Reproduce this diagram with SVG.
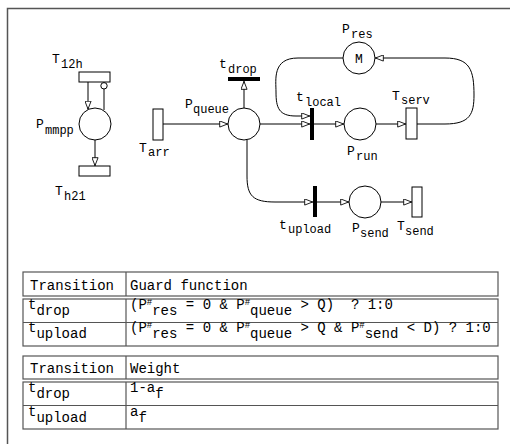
<svg xmlns="http://www.w3.org/2000/svg" width="510" height="444" viewBox="0 0 510 444">
<defs>
<style>
.pl{fill:#fff;stroke:#000;stroke-width:1}
.tr{fill:#fff;stroke:#000;stroke-width:1}
.bar{fill:#000;stroke:none}
.arc{fill:none;stroke:#000;stroke-width:1}
.lb{font-family:"Liberation Mono","DejaVu Sans Mono",monospace;font-size:13px;fill:#000}
.sb{font-size:12px}
.tb{fill:none;stroke:#555;stroke-width:1.2}
.tt{font-family:"Liberation Mono","DejaVu Sans Mono",monospace;font-size:14px;fill:#000}
.sp{font-size:9px}
</style>
<marker id="ah" viewBox="0 0 10 8" markerWidth="9" markerHeight="7" refX="10" refY="4" orient="auto" markerUnits="userSpaceOnUse">
<path d="M0.5,0.5 L9.5,4 L0.5,7.5 Z" fill="#fff" stroke="#000" stroke-width="1"/>
</marker>
</defs>
<rect x="7.5" y="8.5" width="600" height="600" fill="none" stroke="#555" stroke-width="1.5"/>
<g id="connectors">
<path class="arc" d="M88 82 V109.5" marker-end="url(#ah)"/>
<path class="arc" d="M104 110 V89"/>
<circle cx="104" cy="85.8" r="3.2" fill="#fff" stroke="#000" stroke-width="1"/>
<path class="arc" d="M95 140 V166" marker-end="url(#ah)"/>
<path class="arc" d="M163 124 H228" marker-end="url(#ah)"/>
<path class="arc" d="M244 108 V81" marker-end="url(#ah)"/>
<path class="arc" d="M260 124 H310" marker-end="url(#ah)"/>
<path class="arc" d="M343 58 H298 C272 58 276 80 276 92 C276 108 279 116 296 116 H310" marker-end="url(#ah)"/>
<path class="arc" d="M314 124 H344" marker-end="url(#ah)"/>
<path class="arc" d="M376 124 H406" marker-end="url(#ah)"/>
<path class="arc" d="M417 124 H445 C470 124 474 114 474 95 C474 70 470 58 445 58 H375" marker-end="url(#ah)"/>
<path class="arc" d="M247 140 V176 C247 196 253 202 275 202 H313" marker-end="url(#ah)"/>
<path class="arc" d="M317 202 H349" marker-end="url(#ah)"/>
<path class="arc" d="M381 202 H412" marker-end="url(#ah)"/>
</g>
<g id="T12h"><rect class="tr" x="79" y="72" width="31" height="10"/><text class="lb" x="52" y="63">T<tspan class="sb" x="61" y="68">12h</tspan></text></g>
<g id="Pmmpp"><circle class="pl" cx="95" cy="124" r="16"/><text class="lb" x="36" y="128">P<tspan class="sb" x="45" y="134">mmpp</tspan></text></g>
<g id="Th21"><rect class="tr" x="79" y="166" width="31" height="10"/><text class="lb" x="55" y="195">T<tspan class="sb" x="64" y="200">h21</tspan></text></g>
<g id="Tarr"><rect class="tr" x="153" y="109" width="10" height="31"/><text class="lb" x="139" y="152">T<tspan class="sb" x="148" y="156">arr</tspan></text></g>
<g id="Pqueue"><circle class="pl" cx="244" cy="124" r="16"/><text class="lb" x="185" y="108">P<tspan class="sb" x="193" y="113">queue</tspan></text></g>
<g id="tdrop"><rect class="bar" x="228" y="77" width="32" height="4"/><text class="lb" x="219" y="68">t<tspan class="sb" x="228" y="73">drop</tspan></text></g>
<g id="tlocal"><rect class="bar" x="310" y="108" width="4" height="32"/><text class="lb" x="296" y="101">t<tspan class="sb" x="305" y="106">local</tspan></text></g>
<g id="Pres"><circle class="pl" cx="359" cy="58" r="16"/><text class="lb" x="359" y="62.5" text-anchor="middle" font-size="12">M</text><text class="lb" x="342" y="33">P<tspan class="sb" x="351" y="38">res</tspan></text></g>
<g id="Prun"><circle class="pl" cx="360" cy="124" r="16"/><text class="lb" x="347" y="155">P<tspan class="sb" x="356" y="160">run</tspan></text></g>
<g id="Tserv"><rect class="tr" x="406" y="108" width="11" height="31"/><text class="lb" x="392" y="100">T<tspan class="sb" x="401" y="104">serv</tspan></text></g>
<g id="tupload"><rect class="bar" x="313" y="186" width="4" height="31"/><text class="lb" x="279" y="229">t<tspan class="sb" x="288" y="233">upload</tspan></text></g>
<g id="Psend"><circle class="pl" cx="365" cy="202" r="16"/><text class="lb" x="352" y="232">P<tspan class="sb" x="360" y="237">send</tspan></text></g>
<g id="Tsend"><rect class="tr" x="412" y="187" width="10" height="30"/><text class="lb" x="397" y="230">T<tspan class="sb" x="405" y="235">send</tspan></text></g>
<g id="guard-table">
<rect class="tb" x="23" y="272" width="475" height="24"/>
<rect class="tb" x="23" y="299" width="475" height="47"/>
<line class="tb" x1="23" y1="322.5" x2="498" y2="322.5"/>
<line class="tb" x1="126" y1="272" x2="126" y2="296"/>
<line class="tb" x1="126" y1="299" x2="126" y2="346"/>
<text class="tt" x="30" y="290">Transition</text>
<text class="tt" x="130" y="290">Guard function</text>
<text class="tt" x="28" y="309">t<tspan dy="6">drop</tspan></text>
<text class="tt" x="28" y="332">t<tspan dy="6">upload</tspan></text>
<text class="tt" x="130" y="309" xml:space="preserve">(P<tspan class="sp" dy="-4">#</tspan><tspan dy="10">res</tspan><tspan dy="-6"> = 0 &amp; P</tspan><tspan class="sp" dy="-4">#</tspan><tspan dy="10">queue</tspan><tspan dy="-6"> &gt; Q)  ? 1:0</tspan></text>
<text class="tt" x="130" y="332" xml:space="preserve">(P<tspan class="sp" dy="-4">#</tspan><tspan dy="10">res</tspan><tspan dy="-6"> = 0 &amp; P</tspan><tspan class="sp" dy="-4">#</tspan><tspan dy="10">queue</tspan><tspan dy="-6"> &gt; Q &amp; P</tspan><tspan class="sp" dy="-4">#</tspan><tspan dy="10">send</tspan><tspan dy="-6"> &lt; D) ? 1:0</tspan></text>
</g>
<g id="weight-table">
<rect class="tb" x="23" y="356" width="475" height="23"/>
<rect class="tb" x="23" y="382" width="475" height="47"/>
<line class="tb" x1="23" y1="405.5" x2="498" y2="405.5"/>
<line class="tb" x1="126" y1="356" x2="126" y2="379"/>
<line class="tb" x1="126" y1="382" x2="126" y2="429"/>
<text class="tt" x="30" y="373">Transition</text>
<text class="tt" x="130" y="373">Weight</text>
<text class="tt" x="28" y="392">t<tspan dy="6">drop</tspan></text>
<text class="tt" x="28" y="416">t<tspan dy="6">upload</tspan></text>
<text class="tt" x="130" y="392">1-a<tspan dy="6">f</tspan></text>
<text class="tt" x="130" y="416">a<tspan dy="6">f</tspan></text>
</g>
</svg>
